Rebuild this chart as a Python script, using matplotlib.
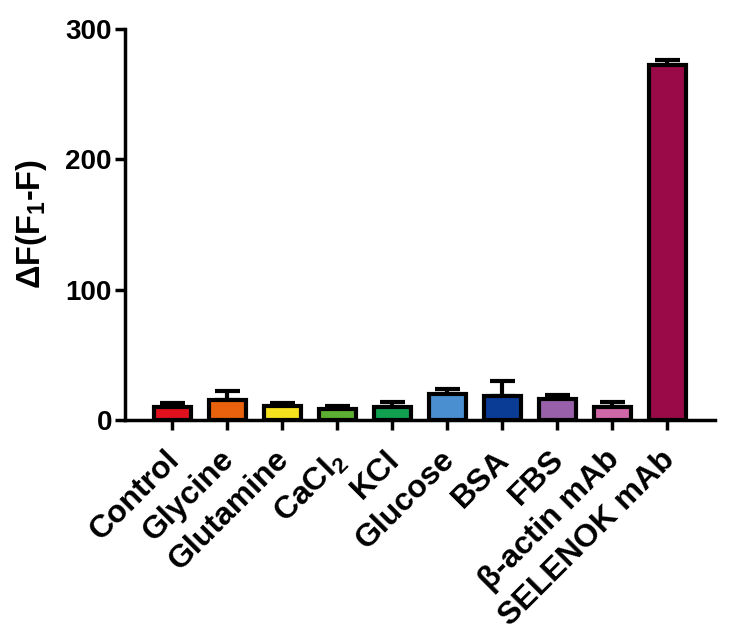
import matplotlib
matplotlib.use("Agg")
import matplotlib.pyplot as plt
import matplotlib.transforms as mtrans
import numpy as np

categories = ["Control", "Glycine", "Glutamine", "CaCl$_2$", "KCl", "Glucose",
              "BSA", "FBS", "β-actin mAb", "SELENOK mAb"]
values = [10, 15, 11, 8, 10, 20, 18, 16, 10, 272]
errors = [3, 7, 2, 3, 4, 4, 12, 3, 4, 4]
colors = ["#E0101E", "#E8620E", "#F5E11E", "#5BAF32", "#10A050", "#4A8FD0",
          "#0A3C96", "#9860A8", "#D068A8", "#9A0A48"]
yticks = [0, 100, 200, 300]

plt.rcParams['font.family'] = ['Liberation Sans', 'DejaVu Sans']
plt.rcParams['mathtext.fontset'] = 'custom'
plt.rcParams['mathtext.rm'] = 'Liberation Sans:bold'
plt.rcParams['mathtext.it'] = 'Liberation Sans:bold'
plt.rcParams['mathtext.bf'] = 'Liberation Sans:bold'

fig = plt.figure(figsize=(7.32, 6.41), dpi=100)
ax = fig.add_axes([0.171, 0.345, 0.806, 0.61])
x = np.arange(len(categories))
ax.bar(x, values, width=0.67, color=colors, edgecolor="black", linewidth=3, zorder=2)
ax.errorbar(x, values, yerr=[np.zeros(len(errors)), errors], fmt="none",
            ecolor="black", elinewidth=3, capsize=9, capthick=3, zorder=1)
ax.set_xlim(-0.855, 9.87)
ax.set_ylim(0, 300)
ax.set_yticks(yticks)
ax.set_yticklabels([str(t) for t in yticks], fontsize=20, fontweight="bold")
ax.set_xticks(x)
ax.set_xticklabels(categories, rotation=45, ha="right", rotation_mode="anchor",
                   fontsize=23, fontweight="bold")
ax.tick_params(axis="both", width=2.5, length=7.5, direction="out")
ax.tick_params(axis="y", pad=2)
ax.tick_params(axis="x", pad=6)
offset = mtrans.ScaledTranslation(-0.08, -0.06, fig.dpi_scale_trans)
for lab in ax.get_xticklabels():
    lab.set_transform(lab.get_transform() + offset)
for s in ["top", "right"]:
    ax.spines[s].set_visible(False)
for s in ["left", "bottom"]:
    ax.spines[s].set_linewidth(2.5)
ax.set_ylabel("ΔF(F$_1$-F)", fontsize=23.5, fontweight="bold", labelpad=12)
fig.savefig("out.png", dpi=100)
